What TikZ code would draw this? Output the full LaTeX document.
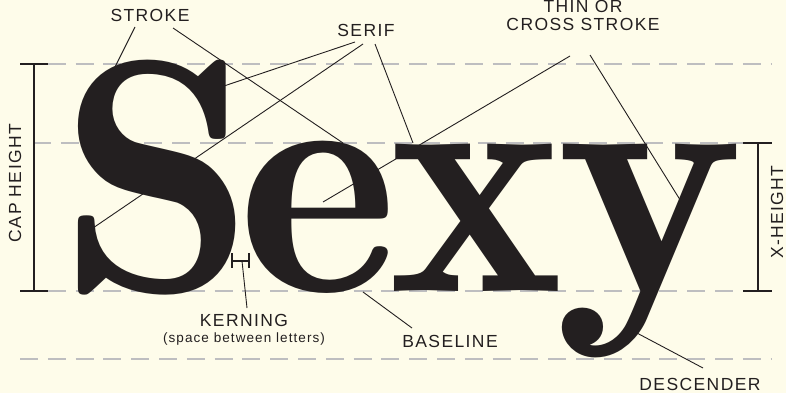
\documentclass[tikz,border=0pt]{standalone}
\usepackage{fontspec}
\newfontfamily\labelfont[LetterSpace=8]{Liberation Sans}
\definecolor{paper}{RGB}{254,252,234}
\definecolor{ink}{RGB}{35,31,32}
\definecolor{guidegray}{RGB}{190,190,192}

\tikzset{
  guide/.style={guidegray, line width=2.5pt, dash pattern=on 18pt off 9.8pt},
  measure/.style={ink, line width=2pt},
  leader/.style={ink, line width=0.9pt},
  lbl/.style={anchor=base, inner sep=0pt, text=ink, font=\labelfont\fontsize{17.5}{18.5}\selectfont},
  note/.style={anchor=base, inner sep=0pt, text=ink, font=\labelfont\fontsize{13.5}{14}\selectfont},
  glyph/.style={anchor=base west, inner sep=0pt, text=ink, font=\fontseries{b}\fontsize{332}{332}\selectfont}
}

\begin{document}
\begin{tikzpicture}[x=1pt, y=-1pt]
    \fill[paper] (0,0) rectangle (786,393);
    \useasboundingbox (0,0) rectangle (786,393);

    % guide lines: cap, x-height, baseline, descender
    \draw[guide] (20,64)  -- (772,64);
    \draw[guide] (33,143) -- (743,143);
    \draw[guide] (20,291) -- (743,291);
    \draw[guide] (20,359) -- (772,359);

    % the word
    \node[glyph, xscale=1.07] (letterS) at (58.7,291)  {S};
    \node[glyph, xscale=1.03] (lettere) at (238.5,291) {e};
    \node[glyph] (letterx) at (388,291) {x};
    \node[glyph, xscale=1.08] (lettery) at (555.4,291) {y};

    % height bars
    \draw[measure] (20,64) -- (48,64) (34,64) -- (34,291) (20,291) -- (48,291);
    \draw[measure] (743,143) -- (772,143) (758,143) -- (758,291) (743,291) -- (772,291);
    \node[lbl, rotate=90] (capheight) at (21,183) {CAP HEIGHT};
    \node[lbl, rotate=90] (xheight) at (783,212) {X-HEIGHT};

    % kerning mark
    \draw[measure] (232,253) -- (232,268) (249,253) -- (249,268) (232,261) -- (249,261);
    \coordinate (kernmark) at (242,261);

    % labels
    \node[lbl] (stroke) at (150,22) {STROKE};
    \node[lbl] (serif) at (366,37) {SERIF};
    \node[lbl, align=center] (thin) at (583,31) {THIN OR\\CROSS STROKE};
    \node[lbl] (kerning) at (244,326) {KERNING};
    \node[note] (kernnote) at (244,342) {(space between letters)};
    \node[lbl] (baseline) at (450,347) {BASELINE};
    \node[lbl] (descender) at (700,390) {DESCENDER};

    % leader ends
    \coordinate (stroke-a) at (135,27);
    \coordinate (stroke-b) at (173,28);
    \coordinate (serif-a) at (355,42);
    \coordinate (serif-b) at (363,44);
    \coordinate (serif-c) at (375,44);
    \coordinate (thin-a) at (570,56);
    \coordinate (thin-b) at (590,55);
    \coordinate (kern-a) at (247,308);
    \coordinate (base-a) at (412,328);
    \coordinate (desc-a) at (703,368);

    % points on the letters
    \coordinate (spine) at (112,73);
    \coordinate (ebowl) at (343,143);
    \coordinate (Stop) at (218,88);
    \coordinate (Sfoot) at (93,228);
    \coordinate (xserif) at (413,143);
    \coordinate (ebar) at (323,202);
    \coordinate (yarm) at (682,203);
    \coordinate (ebase) at (363,292);
    \coordinate (ytail) at (635,332);

    \foreach \from/\to in {stroke-a/spine, stroke-b/ebowl, serif-a/Stop, serif-b/Sfoot,
                           serif-c/xserif, thin-a/ebar, thin-b/yarm, kern-a/kernmark,
                           base-a/ebase, desc-a/ytail}
      \draw[leader] (\from) -- (\to);
  \end{tikzpicture}
\end{document}
